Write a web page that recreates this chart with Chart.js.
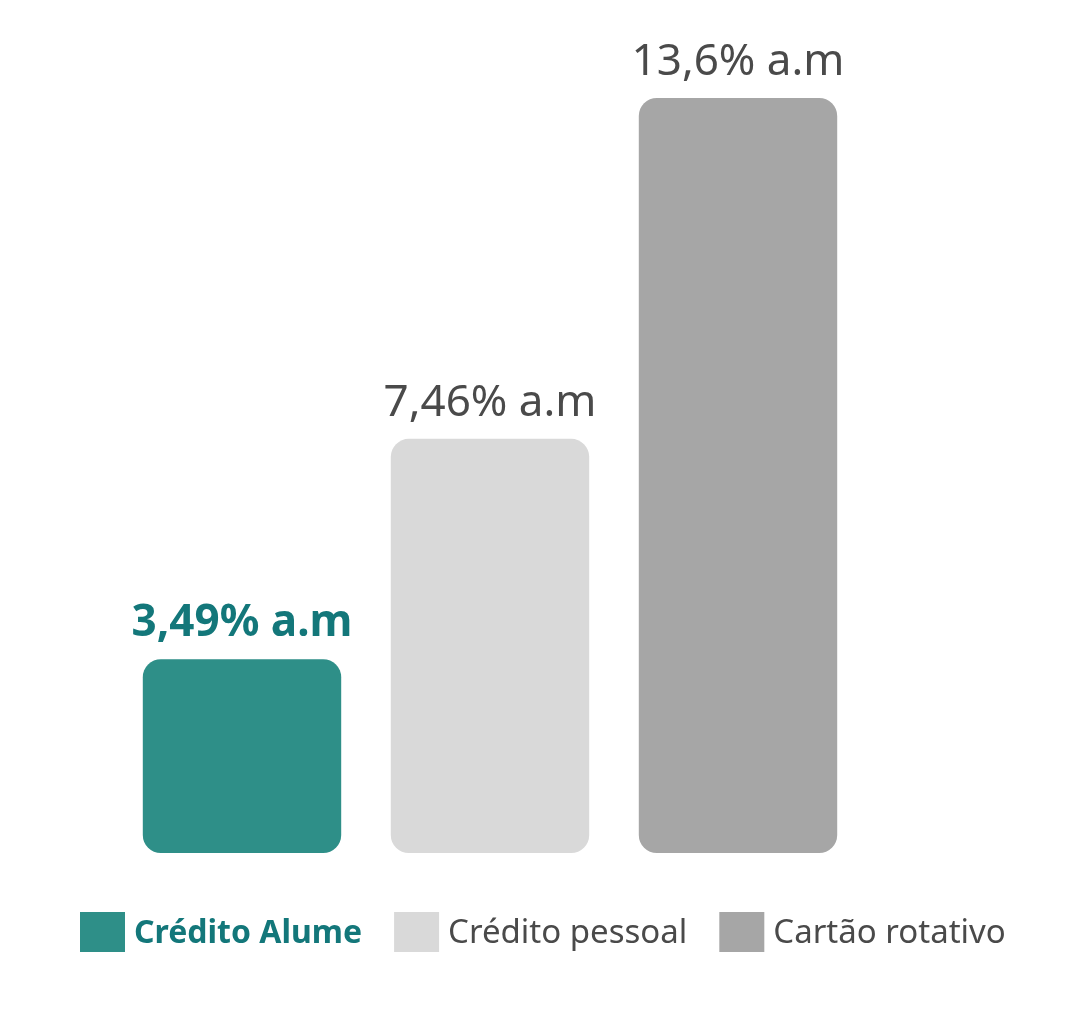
<!DOCTYPE html>
<html>
<head>
<meta charset="utf-8">
<script src="https://cdn.jsdelivr.net/npm/chart.js@4.4.0/dist/chart.umd.min.js"></script>
<style>
  html, body { margin: 0; padding: 0; background: #fff; }
  #wrap { width: 1080px; height: 1020px; }
</style>
</head>
<body>
<div id="wrap"><canvas id="myChart" width="1080" height="1020"></canvas></div>
<script>
// categories (legend names)
var categories = ["Crédito Alume", "Crédito pessoal", "Cartão rotativo"];
// monthly rates, % a.m
var rates = [3.49, 7.46, 13.6];
// labels drawn above the bars
var rateLabels = ["3,49% a.m", "7,46% a.m", "13,6% a.m"];
var barColors = ["#2e8f88", "#d9d9d9", "#a6a6a6"];
var labelColors = ["#13777a", "#4a4a4a", "#4a4a4a"];

var FONT = "'Noto Sans', 'Open Sans', sans-serif";

// value labels above each bar
var barLabels = {
  id: "barLabels",
  afterDatasetsDraw: function (chart) {
    var ctx = chart.ctx;
    var meta = chart.getDatasetMeta(0);
    ctx.save();
    ctx.textAlign = "center";
    ctx.textBaseline = "alphabetic";
    meta.data.forEach(function (bar, i) {
      ctx.font = (i === 0 ? "bold " : "") + "44px " + FONT;
      ctx.fillStyle = labelColors[i];
      ctx.fillText(rateLabels[i], bar.x, bar.y - 23);
    });
    ctx.restore();
  }
};

// legend along the bottom
var bottomLegend = {
  id: "bottomLegend",
  afterDraw: function (chart) {
    var ctx = chart.ctx;
    var x = 80;
    var cy = 932;
    ctx.save();
    ctx.textBaseline = "middle";
    ctx.textAlign = "left";
    categories.forEach(function (name, i) {
      ctx.fillStyle = barColors[i];
      ctx.fillRect(x, cy - 20, 45, 40);
      x += 45 + 9;
      ctx.font = (i === 0 ? "bold 32px " : "33px ") + FONT;
      ctx.fillStyle = i === 0 ? labelColors[0] : "#4a4a4a";
      ctx.fillText(name, x, cy + 2);
      x += ctx.measureText(name).width + 32;
    });
    ctx.restore();
  }
};

new Chart(document.getElementById("myChart"), {
  type: "bar",
  data: {
    labels: categories,
    datasets: [
      {
        data: rates,
        backgroundColor: barColors,
        borderRadius: 18,
        borderSkipped: false,
        barPercentage: 0.8,
        categoryPercentage: 1
      }
    ]
  },
  options: {
    responsive: false,
    animation: false,
    layout: { padding: { left: 118, right: 218, top: 98, bottom: 167 } },
    plugins: {
      legend: { display: false },
      tooltip: { enabled: false }
    },
    scales: {
      x: { display: false },
      y: { display: false, min: 0, max: 13.6 }
    }
  },
  plugins: [barLabels, bottomLegend]
});
</script>
</body>
</html>
